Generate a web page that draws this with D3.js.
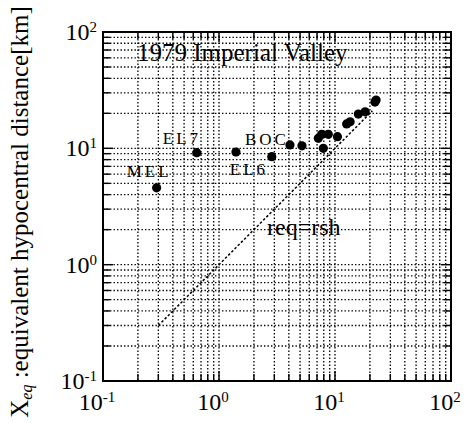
<!DOCTYPE html>
<html><head><meta charset="utf-8">
<script src="https://cdn.jsdelivr.net/npm/d3@7/dist/d3.min.js"></script>
<style>body{margin:0;background:#fff}svg{display:block}text{font-family:"Liberation Serif","Times New Roman",serif;fill:#000}</style>
</head><body>
<script>
// data
const rsh = [0.29, 0.643, 1.40, 2.85, 4.09, 5.19, 7.18, 7.68, 8.75, 7.93, 10.5, 12.6, 13.5, 15.9, 18.2, 22.6, 22.1];
const xeq = [4.58, 9.17, 9.30, 8.47, 10.7, 10.5, 12.2, 13.2, 13.2, 10.0, 12.6, 16.2, 16.9, 19.7, 20.6, 26.0, 25.0];
const stationNames = ["MEL", "EL7", "EL6", "BOC"];
const stationIndex = [0, 1, 3, 4];
const majorTicks = [0.1, 1, 10, 100];
const tickExponents = ["-1", "0", "1", "2"];
const refLine = [0.3, 21];
const title = "1979 Imperial Valley";
const refLabel = "req=rsh";

const W = 468, H = 423;
const svg = d3.select("body").append("svg").attr("width", W).attr("height", H);
const pL = 103, pR = 451, pT = 32, pB = 381;
const x = d3.scaleLog().domain([0.1, 100]).range([pL, pR]);
const y = d3.scaleLog().domain([0.1, 100]).range([pB, pT]);

// all tick values
const allTicks = [];
[0.1, 1, 10].forEach(d => { for (let k = 1; k <= 9; k++) allTicks.push(+(d * k).toPrecision(3)); });
allTicks.push(100);
const inner = allTicks.filter(v => v > 0.1 && v < 100);

// grid
const g = svg.append("g");
g.selectAll(".vg").data(inner).join("line")
  .attr("x1", d => x(d)).attr("x2", d => x(d)).attr("y1", pT).attr("y2", pB)
  .attr("stroke", "#000").attr("stroke-width", 1.3).attr("stroke-dasharray", "1.4,2.1");
g.selectAll(".hg").data(inner).join("line")
  .attr("y1", d => y(d)).attr("y2", d => y(d)).attr("x1", pL).attr("x2", pR)
  .attr("stroke", "#000").attr("stroke-width", 1.3).attr("stroke-dasharray", "1.4,2.1");

// inward ticks on all four sides
const isMajor = v => majorTicks.includes(v);
const tl = v => isMajor(v) ? 10 : 7;
const tk = svg.append("g").attr("stroke", "#000").attr("stroke-width", 1.4);
tk.selectAll(".bt").data(allTicks).join("line")
  .attr("x1", d => x(d)).attr("x2", d => x(d)).attr("y1", pB).attr("y2", d => pB - tl(d));
tk.selectAll(".tt").data(allTicks).join("line")
  .attr("x1", d => x(d)).attr("x2", d => x(d)).attr("y1", pT).attr("y2", d => pT + tl(d));
tk.selectAll(".lt").data(allTicks).join("line")
  .attr("y1", d => y(d)).attr("y2", d => y(d)).attr("x1", pL).attr("x2", d => pL + tl(d));
tk.selectAll(".rt").data(allTicks).join("line")
  .attr("y1", d => y(d)).attr("y2", d => y(d)).attr("x1", pR).attr("x2", d => pR - tl(d));

// frame
svg.append("rect").attr("x", pL).attr("y", pT).attr("width", pR - pL).attr("height", pB - pT)
  .attr("fill", "none").attr("stroke", "#000").attr("stroke-width", 2);

// reference line req = rsh
svg.append("line")
  .attr("x1", x(refLine[0])).attr("y1", y(refLine[0])).attr("x2", x(refLine[1])).attr("y2", y(refLine[1]))
  .attr("stroke", "#000").attr("stroke-width", 1.5).attr("stroke-dasharray", "2.5,2");

// points
svg.selectAll(".pt").data(rsh).join("circle")
  .attr("cx", d => x(d)).attr("cy", (d, i) => y(xeq[i])).attr("r", 4.6).attr("fill", "#000");

// station labels
const labOff = {MEL: [-30, -11], EL7: [-34, -9], EL6: [-42, 18], BOC: [-45, 0]};
stationNames.forEach((n, j) => {
  const i = stationIndex[j];
  svg.append("text").attr("x", x(rsh[i]) + labOff[n][0]).attr("y", y(xeq[i]) + labOff[n][1])
    .attr("font-size", 17).attr("letter-spacing", 3).text(n);
});

// title and reference label
svg.append("text").attr("x", 137).attr("y", 61).attr("font-size", 25).text(title);
svg.append("text").attr("x", 267).attr("y", 235).attr("font-size", 24).text(refLabel);

// tick labels with superscripts
majorTicks.forEach((v, i) => {
  const ty = svg.append("text").attr("x", 97).attr("y", y(v) + 8).attr("text-anchor", "end").attr("font-size", 24);
  ty.append("tspan").text("10");
  ty.append("tspan").attr("font-size", 15).attr("dy", -8).text(tickExponents[i]);
  const tx = svg.append("text").attr("x", x(v) - 6).attr("y", 410).attr("text-anchor", "middle").attr("font-size", 24);
  tx.append("tspan").text("10");
  tx.append("tspan").attr("font-size", 15).attr("dy", -8).text(tickExponents[i]);
});

// y-axis title
const yt = svg.append("text").attr("transform", "translate(28,212) rotate(-90)")
  .attr("text-anchor", "middle").attr("font-size", 25);
yt.append("tspan").text("X");
yt.append("tspan").attr("font-size", 16).attr("font-style", "italic").attr("dy", 4).text("eq");
yt.append("tspan").attr("dy", -4).text(" :equivalent hypocentral distance[km]");
</script>
</body></html>
